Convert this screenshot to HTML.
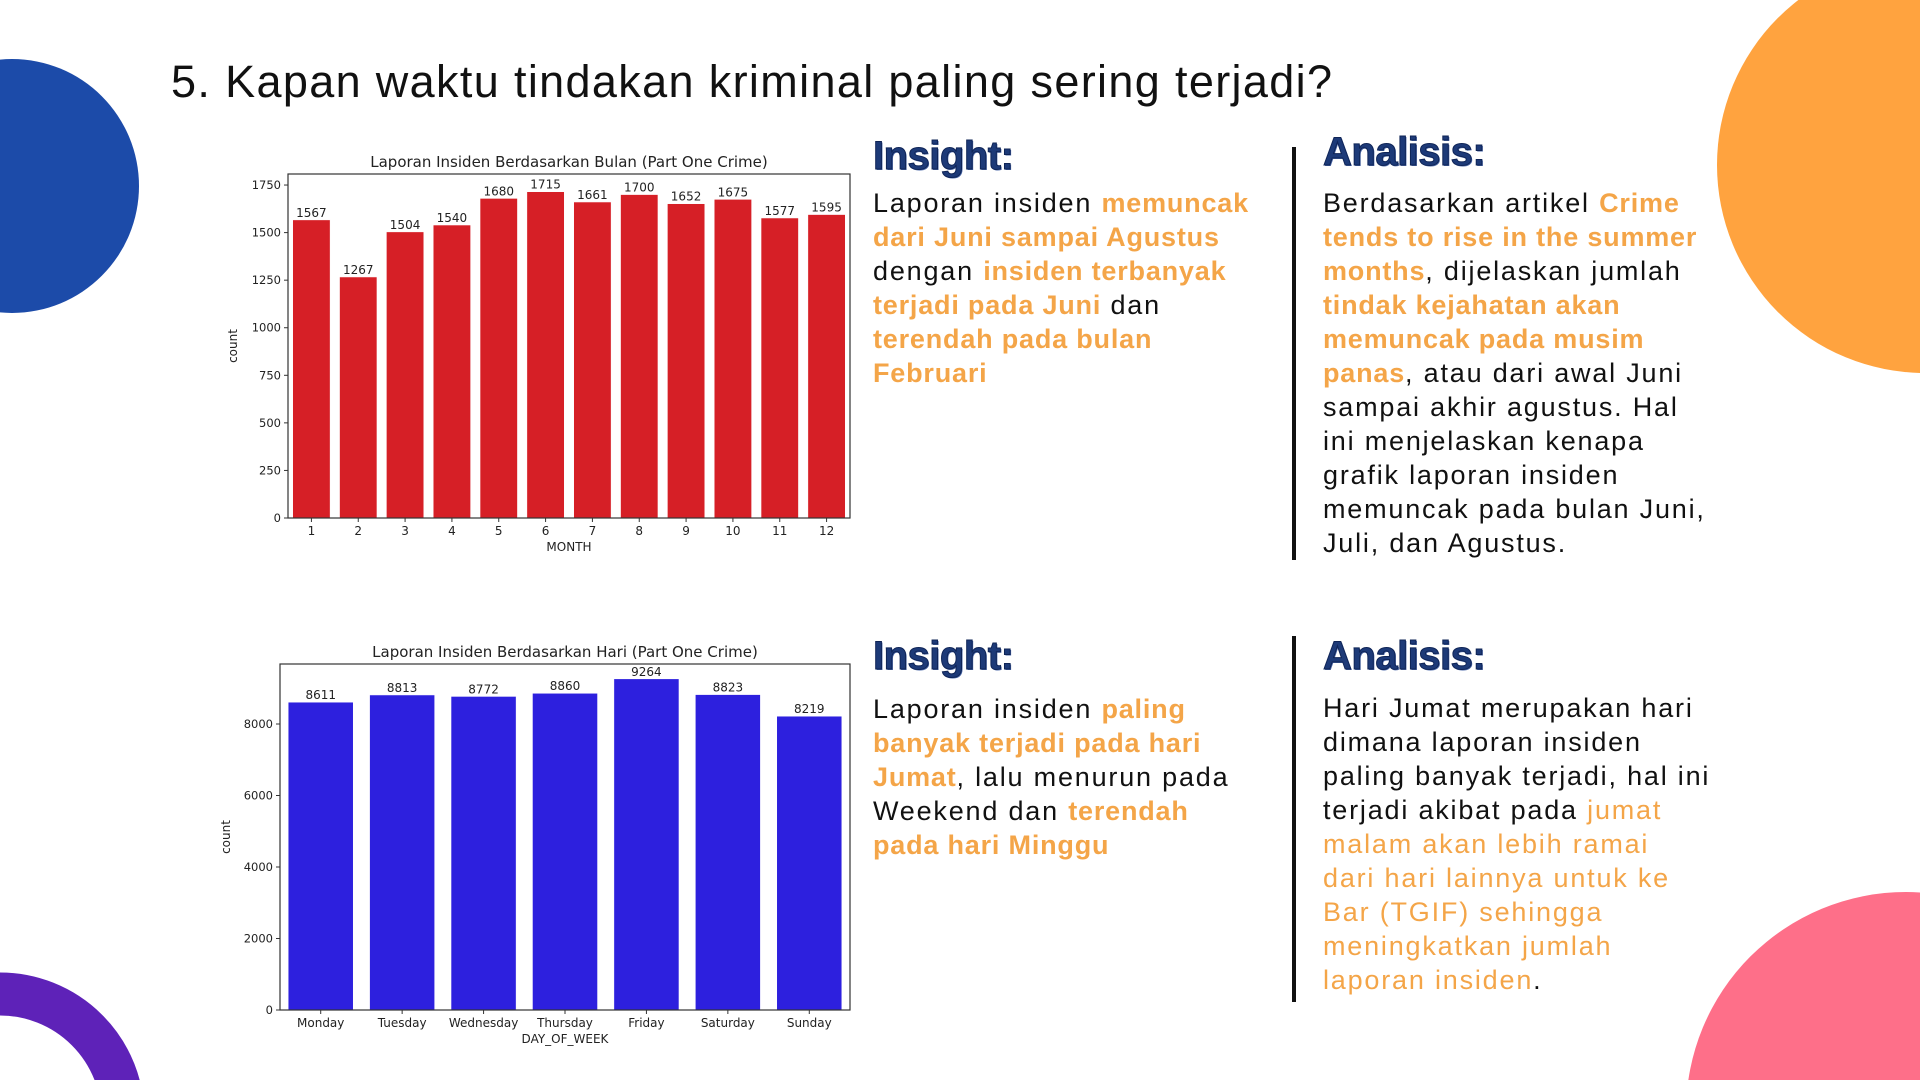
<!DOCTYPE html>
<html><head><meta charset="utf-8">
<style>
html,body{margin:0;padding:0;background:#fff;overflow:hidden;width:1920px;height:1080px;}
body{position:relative;font-family:"Liberation Sans",sans-serif;}
.abs{position:absolute;}
.title{left:171px;top:56px;font-size:45px;letter-spacing:1.35px;color:#111;white-space:nowrap;}
.head{font-size:40px;font-weight:bold;color:#1d3a78;-webkit-text-stroke:1px #0f2456;letter-spacing:-0.5px;text-shadow:1px 1px 0 #4a67a8;}
.body{font-size:27px;line-height:34px;color:#111;white-space:nowrap;letter-spacing:1.8px;}
.o{color:#F4A548;font-weight:bold;letter-spacing:0.8px;}
.oa{color:#F4A548;}
.vline{width:4px;background:#111;}
svg text{font-family:"DejaVu Sans",sans-serif;fill:#222;}
</style></head>
<body>
<svg class="abs" style="left:0;top:0" width="1920" height="1080">
  <circle cx="12" cy="186" r="127" fill="#1C4BA9"/>
  <circle cx="1925" cy="165" r="208" fill="#FFA33F"/>
  <circle cx="1906" cy="1112" r="220" fill="#FE6F89"/>
  <circle cx="0" cy="1117" r="123" fill="none" stroke="#5E22B8" stroke-width="43"/>
</svg>

<div class="abs title">5. Kapan waktu tindakan kriminal paling sering terjadi?</div>

<svg id="chart" class="abs" style="left:0;top:0" width="1920" height="1080"></svg>

<div class="abs head" style="left:873px;top:134px">Insight:</div>
<div class="abs body" style="left:873px;top:186px">Laporan insiden <span class="o">memuncak</span><br><span class="o">dari Juni sampai Agustus</span><br>dengan <span class="o">insiden terbanyak</span><br><span class="o">terjadi pada Juni</span> dan<br><span class="o">terendah pada bulan</span><br><span class="o">Februari</span></div>

<div class="abs vline" style="left:1292px;top:147px;height:413px"></div>

<div class="abs head" style="left:1323px;top:130px">Analisis:</div>
<div class="abs body" style="left:1323px;top:186px">Berdasarkan artikel <span class="o">Crime</span><br><span class="o">tends to rise in the summer</span><br><span class="o">months</span>, dijelaskan jumlah<br><span class="o">tindak kejahatan akan</span><br><span class="o">memuncak pada musim</span><br><span class="o">panas</span>, atau dari awal Juni<br>sampai akhir agustus. Hal<br>ini menjelaskan kenapa<br>grafik laporan insiden<br>memuncak pada bulan Juni,<br>Juli, dan Agustus.</div>

<div class="abs head" style="left:873px;top:634px">Insight:</div>
<div class="abs body" style="left:873px;top:692px">Laporan insiden <span class="o">paling</span><br><span class="o">banyak terjadi pada hari</span><br><span class="o">Jumat</span>, lalu menurun pada<br>Weekend dan <span class="o">terendah</span><br><span class="o">pada hari Minggu</span></div>

<div class="abs vline" style="left:1292px;top:636px;height:366px"></div>

<div class="abs head" style="left:1323px;top:634px">Analisis:</div>
<div class="abs body" style="left:1323px;top:691px">Hari Jumat merupakan hari<br>dimana laporan insiden<br>paling banyak terjadi, hal ini<br>terjadi akibat pada <span class="oa">jumat</span><br><span class="oa">malam akan lebih ramai</span><br><span class="oa">dari hari lainnya untuk ke</span><br><span class="oa">Bar (TGIF) sehingga</span><br><span class="oa">meningkatkan jumlah</span><br><span class="oa">laporan insiden</span>.</div>

<script>
const monthCategories = ["1","2","3","4","5","6","7","8","9","10","11","12"];
const monthValues = [1567,1267,1504,1540,1680,1715,1661,1700,1652,1675,1577,1595];
const monthTicks = [0,250,500,750,1000,1250,1500,1750];
const dayCategories = ["Monday","Tuesday","Wednesday","Thursday","Friday","Saturday","Sunday"];
const dayValues = [8611,8813,8772,8860,9264,8823,8219];
const dayTicks = [0,2000,4000,6000,8000];

const NS = "http://www.w3.org/2000/svg";
const svg = document.getElementById("chart");
function mk(tag, attrs, parent){
  const e = document.createElementNS(NS, tag);
  for (const k in attrs) e.setAttribute(k, attrs[k]);
  (parent||svg).appendChild(e);
  return e;
}
function drawChart(cfg){
  const g = mk("g", {});
  
  
  const L=cfg.L,R=cfg.R,T=cfg.T,B=cfg.B;
  const y = v => B - v/cfg.ymax*(B-T);
  const band = (R-L)/cfg.cats.length;
  const x = i => L + band*i + band/2;
  cfg.vals.forEach((v,i)=>{
    const bw = band*0.8;
    const r = mk("rect",{x:x(i)-bw/2,y:y(v),width:bw,height:B-y(v),fill:cfg.color,stroke:"#fff","stroke-width":0.6},g);
    
    
    const t = mk("text",{x:x(i),y:y(v)-3,"text-anchor":"middle","font-size":12},g);
    t.textContent = v;
    
    
    mk("line",{x1:x(i),x2:x(i),y1:B,y2:B+4,stroke:"#333","stroke-width":1},g);
    const xl = mk("text",{x:x(i),y:B+17,"text-anchor":"middle","font-size":12},g);
    xl.textContent = cfg.cats[i];
    
    
  });
  cfg.ticks.forEach(v=>{
    mk("line",{x1:L-4,x2:L,y1:y(v),y2:y(v),stroke:"#333","stroke-width":1},g);
    const t = mk("text",{x:L-7,y:y(v)+4,"text-anchor":"end","font-size":11.5},g);
    t.textContent = v;
    
    
  });
  const frame = mk("rect",{x:L,y:T,width:R-L,height:B-T,fill:"none",stroke:"#333","stroke-width":1.2},g);
  
  
  const title = mk("text",{x:(L+R)/2,y:T-7,"text-anchor":"middle","font-size":15},g);
  title.textContent = cfg.title;
  
  
  const xt = mk("text",{x:(L+R)/2,y:B+33,"text-anchor":"middle","font-size":12},g);
  xt.textContent = cfg.xtitle;
  
  
  const yt = mk("text",{x:0,y:0,"text-anchor":"middle","font-size":12,transform:`translate(${cfg.ytx},${(T+B)/2}) rotate(-90)`},g);
  yt.textContent = "count";
  
  
}
drawChart({name:"month-bar-chart",L:288,R:850,T:174,B:518,ymax:1808,cats:monthCategories,vals:monthValues,ticks:monthTicks,color:"#D61F26",title:"Laporan Insiden Berdasarkan Bulan (Part One Crime)",xtitle:"MONTH",ytx:237});
drawChart({name:"day-bar-chart",L:280,R:850,T:664,B:1010,ymax:9678,cats:dayCategories,vals:dayValues,ticks:dayTicks,color:"#2D20DE",title:"Laporan Insiden Berdasarkan Hari (Part One Crime)",xtitle:"DAY_OF_WEEK",ytx:230});
</script>
</body></html>
